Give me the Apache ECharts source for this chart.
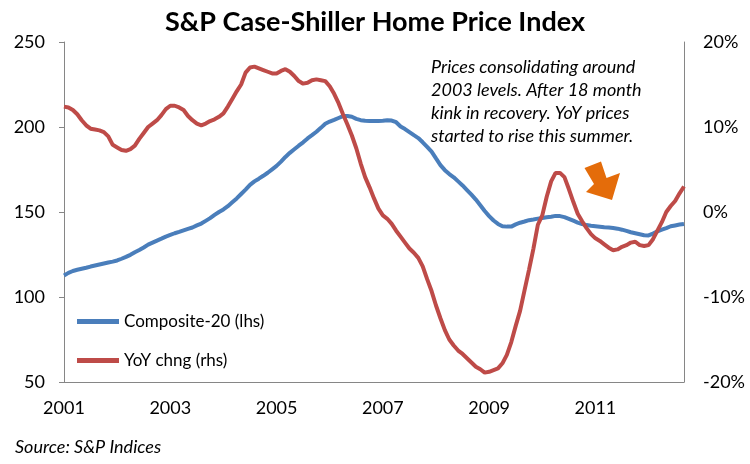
<!DOCTYPE html>
<html>
<head>
<meta charset="utf-8">
<script src="https://cdn.jsdelivr.net/npm/echarts@6/dist/echarts.min.js"></script>
<style>
  html, body { margin: 0; padding: 0; background: #fff; }
  #main { width: 750px; height: 464px; }
</style>
</head>
<body>
<div id="main"></div>
<script>
// monthly, Jan 2001 - Sep 2012
const startYear = 2001;
const xTickLabels = ['2001', '2003', '2005', '2007', '2009', '2011'];

// Composite-20 index level (lhs)
const composite20 = [
  112.7, 114.2, 115.3, 116.0, 116.6, 117.2, 117.9, 118.5, 119.1, 119.7, 120.3, 120.8,
  121.5, 122.5, 123.6, 124.8, 126.3, 127.6, 129.1, 130.8, 132.0, 133.2, 134.3, 135.5,
  136.5, 137.5, 138.3, 139.2, 140.1, 140.9, 142.1, 143.2, 144.8, 146.4, 148.3, 150.0,
  151.5, 153.4, 155.7, 158.0, 160.6, 163.2, 166.0, 168.0, 169.6, 171.3, 173.1, 175.1,
  177.1, 179.6, 182.4, 184.8, 186.9, 189.0, 191.0, 193.3, 195.2, 197.2, 199.5, 201.9,
  203.2, 204.2, 205.3, 206.4, 206.5, 206.0, 204.8, 204.0, 203.7, 203.6, 203.6, 203.6,
  203.7, 204.0, 203.8, 202.8, 200.3, 198.8, 197.0, 195.2, 193.5, 191.0, 188.3, 185.5,
  181.5, 177.6, 174.6, 172.3, 170.4, 168.0, 165.6, 162.9, 160.2, 157.3, 154.0, 150.6,
  147.6, 145.0, 143.0, 141.6, 141.4, 141.4, 142.7, 143.7, 144.4, 145.2, 145.6, 146.1,
  146.5, 146.9, 147.2, 147.7, 147.6, 147.0, 146.0, 144.9, 143.8, 142.9, 142.3, 141.9,
  141.6, 141.3, 141.0, 140.9, 140.6, 140.2, 139.6, 138.9, 138.1, 137.5, 136.9, 136.3,
  136.2, 137.3, 138.6, 139.6, 140.5, 141.6, 142.1, 142.6, 143.0
];

// year-on-year change, % (rhs)
const yoyChange = [
  12.4, 12.3, 12.0, 11.5, 10.8, 10.2, 9.8, 9.7, 9.6, 9.4, 8.9, 7.9,
  7.6, 7.3, 7.2, 7.4, 7.8, 8.6, 9.3, 10.0, 10.4, 10.8, 11.4, 12.1,
  12.5, 12.5, 12.3, 12.0, 11.3, 10.8, 10.4, 10.2, 10.4, 10.7, 10.9, 11.2,
  11.6, 12.4, 13.3, 14.2, 15.0, 16.4, 17.0, 17.1, 16.9, 16.7, 16.5, 16.3,
  16.3, 16.6, 16.8, 16.5, 16.0, 15.4, 15.1, 15.2, 15.5, 15.6, 15.5, 15.4,
  14.8, 13.9, 12.8, 11.5, 10.3, 9.0, 7.5, 5.7, 4.1, 2.9, 1.6, 0.4,
  -0.4, -0.8, -1.4, -2.2, -2.9, -3.6, -4.3, -4.8, -5.4, -6.4, -7.9, -9.3,
  -11.0, -12.5, -13.9, -15.0, -15.7, -16.3, -16.7, -17.2, -17.7, -18.2, -18.5, -18.9,
  -18.8, -18.6, -18.4, -17.8, -16.8, -15.3, -13.4, -11.6, -9.2, -6.8, -4.3, -1.5,
  -0.4, 1.8, 3.6, 4.6, 4.6, 4.1, 2.7, 1.2, -0.2, -1.1, -1.9, -2.6,
  -3.1, -3.4, -3.8, -4.2, -4.5, -4.4, -4.1, -3.9, -3.6, -3.5, -3.9, -4.0,
  -3.9, -3.2, -2.2, -1.2, 0.0, 0.7, 1.3, 2.2, 3.0
];

const months = composite20.map((v, i) => {
  const y = startYear + Math.floor(i / 12);
  const m = (i % 12) + 1;
  return y + '-' + (m < 10 ? '0' + m : m);
});

const font = 'Lato, "Noto Sans", sans-serif';
const axisGrey = '#868686';

const chart = echarts.init(document.getElementById('main'));

chart.setOption({
  animation: false,
  textStyle: { fontFamily: font, color: '#000' },
  title: {
    text: 'S&P Case-Shiller Home Price Index',
    left: 'center',
    top: 4,
    textStyle: { fontFamily: font, fontSize: 27, fontWeight: 'bold', color: '#000' },
  },
  legend: {
    orient: 'vertical',
    left: 77,
    top: 313,
    padding: 0,
    itemWidth: 42,
    itemHeight: 5,
    itemGap: 22,
    icon: 'rect',
    textStyle: { fontFamily: font, fontSize: 17, color: '#000' },
    data: ['Composite-20 (lhs)', 'YoY chng (rhs)'],
  },
  grid: { left: 64, right: 66, top: 42, bottom: 82 },
  xAxis: {
    type: 'category',
    boundaryGap: false,
    data: months,
    axisLine: { onZero: false, lineStyle: { color: axisGrey, width: 1 } },
    axisTick: { show: false },
    axisLabel: {
      fontFamily: font,
      fontSize: 18,
      color: '#000',
      margin: 17,
      interval: (idx, val) => xTickLabels.indexOf(val.slice(0, 4)) >= 0 && val.slice(5) === '01',
      formatter: val => val.slice(0, 4),
    },
  },
  yAxis: [
    {
      type: 'value',
      min: 50,
      max: 250,
      interval: 50,
      splitLine: { show: false },
      axisLine: { show: true, lineStyle: { color: axisGrey } },
      axisTick: { show: true, length: 5, lineStyle: { color: axisGrey } },
      axisLabel: { fontFamily: font, fontSize: 18, color: '#000', margin: 19 },
    },
    {
      type: 'value',
      min: -20,
      max: 20,
      interval: 10,
      splitLine: { show: false },
      axisLine: { show: true, lineStyle: { color: axisGrey } },
      axisTick: { show: false },
      axisLabel: { fontFamily: font, fontSize: 18, color: '#000', margin: 19, formatter: '{value}%' },
    },
  ],
  series: [
    {
      name: 'Composite-20 (lhs)',
      type: 'line',
      yAxisIndex: 0,
      data: composite20,
      showSymbol: false,
      color: '#4A7EBB',
      lineStyle: { width: 4, color: '#4A7EBB' },
    },
    {
      name: 'YoY chng (rhs)',
      type: 'line',
      yAxisIndex: 1,
      data: yoyChange,
      showSymbol: false,
      color: '#BE4B48',
      lineStyle: { width: 4, color: '#BE4B48' },
    },
  ],
  graphic: [
    {
      type: 'text',
      left: 431,
      top: 56,
      style: {
        text: 'Prices consolidating around\n2003 levels. After 18 month\nkink in recovery. YoY prices\nstarted to rise this summer.',
        font: 'italic 18px ' + font,
        lineHeight: 23,
        fill: '#000',
      },
    },
    {
      type: 'polygon',
      shape: {
        points: [[584.5, 168], [601, 161.5], [606.5, 178], [620, 173], [612, 200], [586, 192], [594, 184]],
      },
      style: { fill: '#E46C0A' },
    },
    {
      type: 'text',
      left: 15,
      top: 438,
      style: {
        text: 'Source: S&P Indices',
        font: 'italic 18px ' + font,
        fill: '#000',
      },
    },
  ],
});
</script>
</body>
</html>
